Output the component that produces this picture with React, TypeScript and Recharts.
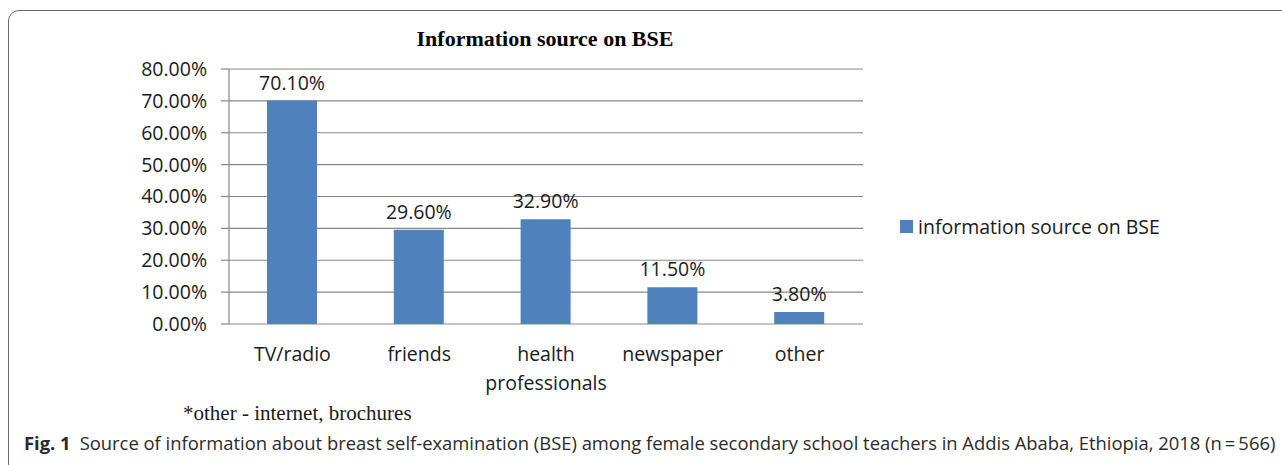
import React from 'react';
import { BarChart, Bar, XAxis, YAxis, CartesianGrid, Legend, LabelList } from 'recharts';

const categories = ['TV/radio', 'friends', 'health professionals', 'newspaper', 'other'];
const values = [70.1, 29.6, 32.9, 11.5, 3.8];
const yTicks = [0, 10, 20, 30, 40, 50, 60, 70, 80];
const seriesName = 'information source on BSE';
const chartTitle = 'Information source on BSE';
const footnote = '*other - internet, brochures';
const captionLabel = 'Fig. 1';
const captionText = 'Source of information about breast self-examination (BSE) among female secondary school teachers in Addis Ababa, Ethiopia, 2018 (n\u2009=\u2009566)';

const data = categories.map((c, i) => ({ name: c, value: values[i] }));
const boundaryTicks = categories.map((_, i) => i).concat([categories.length]);

const FONT = '"Open Sans", "Noto Sans", sans-serif';
const FS = 19.5;
const GRID = '#878787';
const BAR = '#4f81bd';

const CatTick = (props: any) => {
  const { x, y, payload } = props;
  const v: string = String(payload.value);
  const lines = v.length > 12 ? v.split(' ') : [v];
  return (
    <text x={x} y={y} textAnchor="middle" fontFamily={FONT} fontSize={FS} fill="#1a1a1a">
      {lines.map((l, i) => (
        <tspan key={i} x={x} dy={29}>{l}</tspan>
      ))}
    </text>
  );
};

const LegendContent = () => (
  <div style={{ display: 'flex', alignItems: 'center', fontFamily: FONT, fontSize: FS, color: '#1a1a1a', whiteSpace: 'nowrap' }}>
    <span style={{ display: 'inline-block', width: 13, height: 13, background: BAR, marginRight: 5 }} />
    <span>{seriesName}</span>
  </div>
);

export default function App() {
  return (
    <div style={{ position: 'fixed', left: 0, top: 0, width: 1282, height: 465, background: '#fff', overflow: 'hidden' }}>
      <div style={{ position: 'absolute', left: 8, top: 10, width: 1300, height: 480, border: '1.5px solid #6a6a6a', borderRadius: 11, boxSizing: 'border-box' }} />
      <div style={{ position: 'absolute', left: 245, width: 600, top: 26, textAlign: 'center', fontFamily: '"Liberation Serif", "Times New Roman", serif', fontWeight: 'bold', fontSize: 22, color: '#000' }}>
        {chartTitle}
      </div>
      <div style={{ position: 'absolute', left: 0, top: 0 }}>
        <BarChart width={1282} height={465} data={data} margin={{ top: 69, right: 419, left: 149, bottom: 81 }}>
          <CartesianGrid vertical={false} stroke={GRID} strokeWidth={1.2} />
          <XAxis xAxisId="b" type="number" domain={[0, categories.length]} ticks={boundaryTicks} height={0}
            axisLine={{ stroke: GRID, strokeWidth: 1.2 }} tickLine={{ stroke: GRID, strokeWidth: 1.2 }} tickSize={7}
            tickFormatter={() => ''} allowDataOverflow />
          <XAxis dataKey="name" height={60} axisLine={false} tickLine={false} tick={<CatTick />} interval={0} />
          <YAxis domain={[0, 80]} ticks={yTicks} width={80} tickFormatter={(v: number) => v.toFixed(2) + '%'}
            axisLine={{ stroke: GRID, strokeWidth: 1.2 }} tickLine={{ stroke: GRID, strokeWidth: 1.2 }} tickSize={8} tickMargin={14}
            tick={{ fontFamily: FONT, fontSize: FS, fill: '#1a1a1a' }} interval={0} />
          <Bar dataKey="value" name={seriesName} fill={BAR} barSize={50} isAnimationActive={false}>
            <LabelList dataKey="value" position="top" offset={11} formatter={(v: any) => Number(v).toFixed(2) + '%'}
              style={{ fontFamily: FONT, fontSize: FS, fill: '#1a1a1a' }} />
          </Bar>
          <Legend layout="horizontal" verticalAlign="middle" align="center" content={<LegendContent />}
            wrapperStyle={{ position: 'absolute', left: 900, top: 213, width: 320 }} />
        </BarChart>
      </div>
      <div style={{ position: 'absolute', left: 183, top: 401, fontFamily: '"Liberation Serif", "Times New Roman", serif', fontSize: 21, color: '#1a1a1a', whiteSpace: 'nowrap' }}>
        {footnote}
      </div>
      <div style={{ position: 'absolute', left: 24, top: 430, fontFamily: FONT, fontSize: 18.4, color: '#2a2a2a', whiteSpace: 'nowrap' }}>
        <b style={{ fontWeight: 700 }}>{captionLabel}</b>
        <span style={{ marginLeft: 9 }}>{captionText}</span>
      </div>
    </div>
  );
}
